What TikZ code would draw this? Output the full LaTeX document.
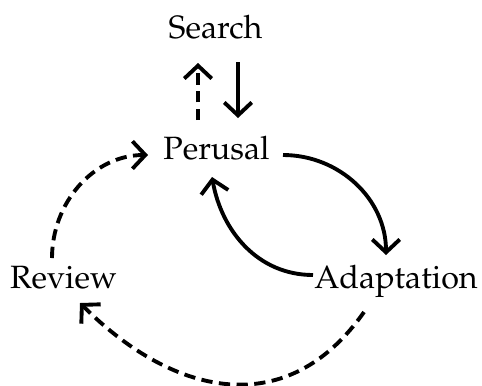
\documentclass[tikz,border=0pt]{standalone}
\usepackage[T1]{fontenc}
\usepackage{mathpazo}
\usetikzlibrary{arrows.meta}
\begin{document}
\begin{tikzpicture}[x=0.0109cm,y=0.0109cm,
  lbl/.style={inner sep=0pt, anchor=base, font=\fontsize{10}{12}\selectfont},
  flow/.style={line width=1.2pt, -{Straight Barb[length=4pt,width=8.5pt]}},
  back/.style={flow, dash pattern=on 3.5pt off 2pt}]
\useasboundingbox (0,0) rectangle (482,385);
\node[lbl](s) at (215.5,347) {Search};
\node[lbl](p) at (216.5,226) {Perusal};
\node[lbl](r) at (63.5,97) {Review};
\node[lbl](a) at (396,97) {Adaptation};

\draw[back] ([shift={(-18.5,39)}]p.base) -- ([shift={(-17.5,-25)}]s.base);
\draw[flow] ([shift={(22.5,-24)}]s.base) -- ([shift={(21.5,41)}]p.base);

\draw[flow] ([shift={(66.5,4)}]p.base) to[out=0,in=90] ([shift={(-10,33)}]a.base);
\draw[flow] ([shift={(-83,13)}]a.base) to[out=180,in=-80] ([shift={(-4.5,-18)}]p.base);

\draw[back] ([shift={(-32,-24)}]a.base) to[out=-125,in=-45,looseness=1.2] ([shift={(16.5,-15)}]r.base);
\draw[back] ([shift={(-11.5,30)}]r.base) to[out=90,in=180] ([shift={(-68.5,4)}]p.base);
\end{tikzpicture}
\end{document}
